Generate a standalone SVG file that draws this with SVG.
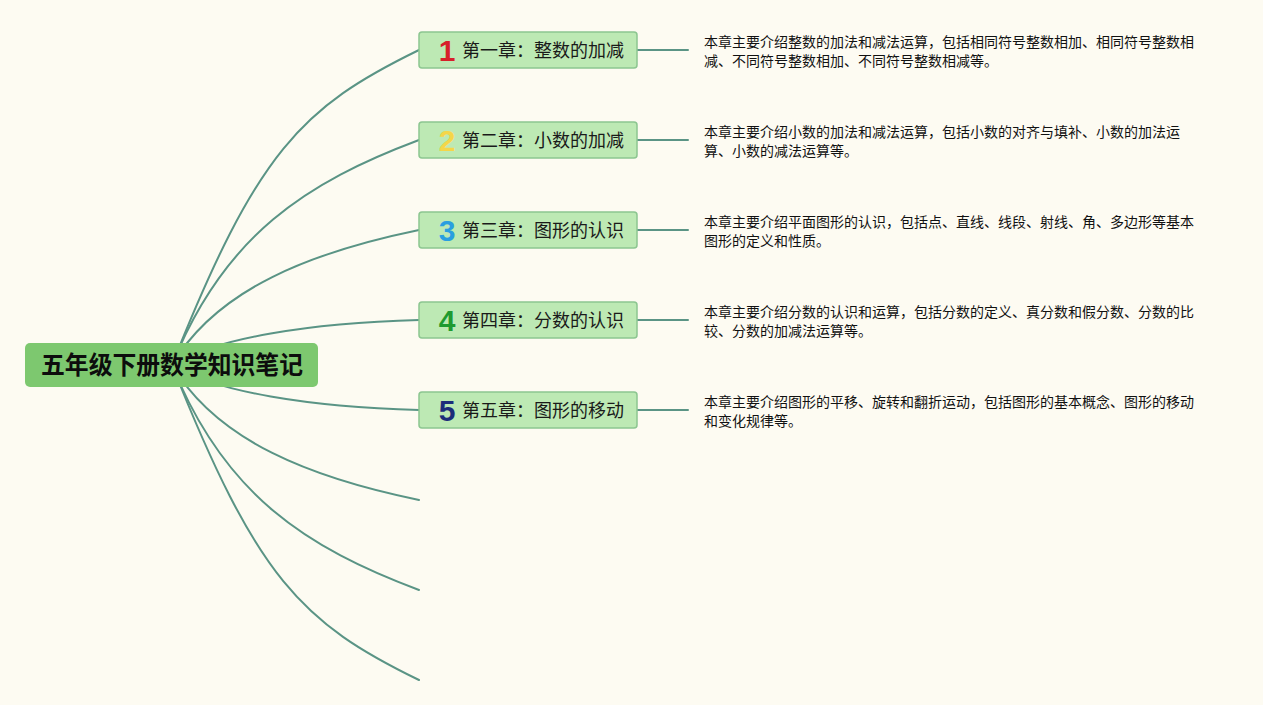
<svg xmlns="http://www.w3.org/2000/svg" width="1263" height="705" viewBox="0 0 1263 705">
<style>
.bg{fill:#fdfbf2}
.conn path{fill:none;stroke:#5a9485;stroke-width:2;stroke-linecap:round}
.topic rect{fill:#bde9b4;stroke:#8cc690;stroke-width:1.5}
.ttl{font-family:"Noto Sans CJK SC","Noto Sans",sans-serif;font-size:18px;fill:#1a1a1a}
.num{font-family:"Liberation Sans","Inter",sans-serif;font-weight:bold;font-size:30px;text-anchor:middle}
.desc{font-family:"Noto Sans CJK SC","Noto Sans",sans-serif;font-size:14px;fill:#111}
.root rect{fill:#7dc86f}
.roottxt{font-family:"Noto Sans CJK SC","Noto Sans",sans-serif;font-weight:bold;font-size:25px;fill:#0d0d0d}
</style>
<rect class="bg" x="0" y="0" width="1263" height="705"/>
<g id="connectors" class="conn">
<path d="M172 365 C257 151 302 107 419 50"/>
<path d="M172 365 C224 235 307 182 419 140"/>
<path d="M172 365 C217 288.5 312 252 419 230"/>
<path d="M172 365 C215 338 310 323 419 320"/>
<path d="M172 365 C215 392 310 407 419 410"/>
<path d="M172 365 C217 441.5 312 478 419 500"/>
<path d="M172 365 C224 495 307 548 419 590"/>
<path d="M172 365 C257 579 302 623 419 680"/>
<path d="M637 50 H688"/>
<path d="M637 140 H688"/>
<path d="M637 230 H688"/>
<path d="M637 320 H688"/>
<path d="M637 410 H688"/>
</g>
<g id="root" class="root">
<rect x="25" y="343" width="293" height="44" rx="5"/>
<text class="roottxt" x="41" y="374" textLength="262" lengthAdjust="spacingAndGlyphs">五年级下册数学知识笔记</text>
</g>
<g id="topic1" class="topic">
<rect x="419" y="32" width="218" height="36" rx="3"/>
<text class="num" x="447" y="61" fill="#d7202a">1</text>
<text class="ttl" x="462" y="56.5">第一章：整数的加减</text>
</g>
<g id="topic2" class="topic">
<rect x="419" y="122" width="218" height="36" rx="3"/>
<text class="num" x="447" y="151" fill="#f4d649">2</text>
<text class="ttl" x="462" y="146.5">第二章：小数的加减</text>
</g>
<g id="topic3" class="topic">
<rect x="419" y="212" width="218" height="36" rx="3"/>
<text class="num" x="447" y="241" fill="#2a9fe0">3</text>
<text class="ttl" x="462" y="236.5">第三章：图形的认识</text>
</g>
<g id="topic4" class="topic">
<rect x="419" y="302" width="218" height="36" rx="3"/>
<text class="num" x="447" y="331" fill="#1f9a30">4</text>
<text class="ttl" x="462" y="326.5">第四章：分数的认识</text>
</g>
<g id="topic5" class="topic">
<rect x="419" y="392" width="218" height="36" rx="3"/>
<text class="num" x="447" y="421" fill="#1c2d7a">5</text>
<text class="ttl" x="462" y="416.5">第五章：图形的移动</text>
</g>
<g id="desc1" class="desc">
<text x="704" y="47">本章主要介绍整数的加法和减法运算，包括相同符号整数相加、相同符号整数相</text>
<text x="704" y="66">减、不同符号整数相加、不同符号整数相减等。</text>
</g>
<g id="desc2" class="desc">
<text x="704" y="137">本章主要介绍小数的加法和减法运算，包括小数的对齐与填补、小数的加法运</text>
<text x="704" y="156">算、小数的减法运算等。</text>
</g>
<g id="desc3" class="desc">
<text x="704" y="227">本章主要介绍平面图形的认识，包括点、直线、线段、射线、角、多边形等基本</text>
<text x="704" y="246">图形的定义和性质。</text>
</g>
<g id="desc4" class="desc">
<text x="704" y="317">本章主要介绍分数的认识和运算，包括分数的定义、真分数和假分数、分数的比</text>
<text x="704" y="336">较、分数的加减法运算等。</text>
</g>
<g id="desc5" class="desc">
<text x="704" y="407">本章主要介绍图形的平移、旋转和翻折运动，包括图形的基本概念、图形的移动</text>
<text x="704" y="426">和变化规律等。</text>
</g>
</svg>
